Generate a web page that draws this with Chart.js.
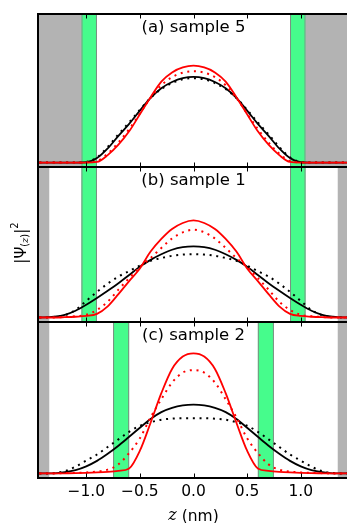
<!DOCTYPE html>
<html><head><meta charset="utf-8">
<script src="https://cdn.jsdelivr.net/npm/chart.js@4.4.1/dist/chart.umd.min.js"></script>
<style>
html,body{margin:0;padding:0;background:#fff;overflow:hidden;width:347px;height:523px}
#wrap{position:relative;width:347px;height:523px;overflow:hidden;background:#fff}
canvas{position:absolute;left:0;top:0}
</style></head><body><div id="wrap">
<canvas id="ca" width="352" height="523"></canvas>
<canvas id="cb" width="352" height="523"></canvas>
<canvas id="cc" width="352" height="523"></canvas>
</div>
<script>
// ---- data ----
const z = [-1.5,-1.4,-1.3,-1.2,-1.1,-1.0,-0.9,-0.8,-0.7,-0.6,-0.5,-0.4,-0.3,-0.2,-0.1,0.0,
            0.1,0.2,0.3,0.4,0.5,0.6,0.7,0.8,0.9,1.0,1.1,1.2,1.3,1.4,1.5];
const xTicks = [-1.0,-0.5,0.0,0.5,1.0];
const panelTitles = ["(a) sample 5","(b) sample 1","(c) sample 2"];
// barrier (gray) start |z| and well-edge (green) bands for each panel, nm
const grayFrom   = [1.045, 1.345, 1.345];
const greenFrom  = [0.90, 0.90, 0.60];
const greenTo    = [1.045, 1.045, 0.75];

// panel (a) sample 5
const redA    = [0,0,0,0,0,0,0.004,0.05,0.12,0.21,0.325,0.44,0.545,0.607,0.64,0.652,
                 0.64,0.607,0.545,0.44,0.325,0.21,0.12,0.05,0.004,0,0,0,0,0,0];
const redDotA = [0,0,0,0,0,0.001,0.01,0.06,0.135,0.225,0.33,0.435,0.52,0.575,0.605,0.615,
                 0.605,0.575,0.52,0.435,0.33,0.225,0.135,0.06,0.01,0.001,0,0,0,0,0];
const blkA    = [0,0,0,0,0,0.002,0.03,0.095,0.18,0.26,0.35,0.435,0.5,0.542,0.568,0.577,
                 0.568,0.542,0.5,0.435,0.35,0.26,0.18,0.095,0.03,0.002,0,0,0,0,0];
const blkDotA = [0,0,0,0,0,0.004,0.035,0.105,0.19,0.27,0.355,0.435,0.495,0.535,0.56,0.568,
                 0.56,0.535,0.495,0.435,0.355,0.27,0.19,0.105,0.035,0.004,0,0,0,0,0];
// panel (b) sample 1
const redB    = [0,0,0,0.002,0.005,0.01,0.024,0.074,0.155,0.242,0.326,0.438,0.522,0.588,0.628,0.645,
                 0.628,0.588,0.522,0.438,0.326,0.242,0.155,0.074,0.024,0.01,0.005,0.002,0,0,0];
const redDotB = [0,0,0,0.003,0.008,0.018,0.05,0.105,0.185,0.262,0.335,0.395,0.462,0.525,0.566,0.583,
                 0.566,0.525,0.462,0.395,0.335,0.262,0.185,0.105,0.05,0.018,0.008,0.003,0,0,0];
const blkB    = [0,0.001,0.006,0.018,0.045,0.085,0.13,0.178,0.228,0.282,0.338,0.383,0.42,0.45,0.467,0.472,
                 0.467,0.45,0.42,0.383,0.338,0.282,0.228,0.178,0.13,0.085,0.045,0.018,0.006,0.001,0];
const blkDotB = [0,0,0.004,0.015,0.05,0.11,0.17,0.225,0.272,0.308,0.345,0.377,0.395,0.41,0.418,0.421,
                 0.418,0.41,0.395,0.377,0.345,0.308,0.272,0.225,0.17,0.11,0.05,0.015,0.004,0,0];
// panel (c) sample 2
const redC    = [0,0,0,0.001,0.002,0.004,0.007,0.011,0.017,0.033,0.15,0.335,0.53,0.69,0.772,0.793,
                 0.772,0.69,0.53,0.335,0.15,0.033,0.017,0.011,0.007,0.004,0.002,0.001,0,0,0];
const redDotC = [0,0,0,0.002,0.004,0.007,0.012,0.025,0.06,0.135,0.232,0.37,0.49,0.6,0.666,0.682,
                 0.666,0.6,0.49,0.37,0.232,0.135,0.06,0.025,0.012,0.007,0.004,0.002,0,0,0];
const blkC    = [0,0,0.001,0.008,0.022,0.047,0.083,0.13,0.183,0.242,0.302,0.36,0.405,0.433,0.449,0.454,
                 0.449,0.433,0.405,0.36,0.302,0.242,0.183,0.13,0.083,0.047,0.022,0.008,0.001,0,0];
const blkDotC = [0,0,0.003,0.015,0.045,0.085,0.125,0.175,0.225,0.275,0.315,0.338,0.355,0.362,0.365,0.365,
                 0.365,0.362,0.355,0.338,0.315,0.275,0.225,0.175,0.125,0.085,0.045,0.015,0.003,0,0];

const panelSeries = [
  [redA, redDotA, blkA, blkDotA],
  [redB, redDotB, blkB, blkDotB],
  [redC, redDotC, blkC, blkDotC]
];

// ---- layout / style ----
const FONT = "'DejaVu Sans', 'Liberation Sans', sans-serif";
Chart.defaults.font.family = FONT;
Chart.defaults.color = '#000';
const W = 352, H = 523;
const PLOT_LEFT = 38, PLOT_RIGHT = 349;
const tops = [14, 167, 322], bottoms = [167, 322, 478];
const XAXIS_H = 45;
const RED = '#ff0000', BLACK = '#000000';
const GRAY = '#b3b3b3', GREEN = 'rgb(70,252,140)';

function pts(arr){ return z.map((x,i)=>({x:x, y:arr[i]})); }

function mkDatasets(s){
  const base = {pointRadius:0, borderCapStyle:'butt', cubicInterpolationMode:'monotone', fill:false};
  return [
    Object.assign({}, base, {data:pts(s[0]), borderColor:RED, borderWidth:1.8}),
    Object.assign({}, base, {data:pts(s[1]), borderColor:RED, borderWidth:2, borderDash:[2,4.7]}),
    Object.assign({}, base, {data:pts(s[2]), borderColor:BLACK, borderWidth:1.8}),
    Object.assign({}, base, {data:pts(s[3]), borderColor:BLACK, borderWidth:2, borderDash:[2,4.7]})
  ];
}

function panelPlugin(k){
  return {
    id:'panel'+k,
    beforeDatasetsDraw(chart){
      const {ctx, chartArea:{left,right,top,bottom}, scales:{x}} = chart;
      ctx.save();
      ctx.beginPath(); ctx.rect(left,top,right-left,bottom-top); ctx.clip();
      ctx.fillStyle = GRAY;
      const gL = x.getPixelForValue(-grayFrom[k]), gR = x.getPixelForValue(grayFrom[k]);
      ctx.fillRect(left, top, gL-left, bottom-top);
      ctx.fillRect(gR, top, right-gR, bottom-top);
      ctx.strokeStyle = 'rgba(130,130,130,0.9)'; ctx.lineWidth = 1;
      [[-greenTo[k],-greenFrom[k]],[greenFrom[k],greenTo[k]]].forEach(([a,b])=>{
        const pa = x.getPixelForValue(a), pb = x.getPixelForValue(b);
        ctx.fillStyle = GREEN;
        ctx.fillRect(pa, top, pb-pa, bottom-top);
        ctx.beginPath();
        ctx.moveTo(pa+0.5, top); ctx.lineTo(pa+0.5, bottom);
        ctx.moveTo(pb-0.5, top); ctx.lineTo(pb-0.5, bottom);
        ctx.stroke();
      });
      ctx.restore();
    },
    afterDatasetsDraw(chart){
      const {ctx, chartArea:{left,right,top,bottom}, scales:{x}} = chart;
      ctx.save();
      // inward ticks
      ctx.strokeStyle = '#000'; ctx.lineWidth = 1;
      ctx.beginPath();
      xTicks.forEach(v=>{
        const px = Math.round(x.getPixelForValue(v)) + 0.5;
        ctx.moveTo(px, bottom); ctx.lineTo(px, bottom-4.5);
        ctx.moveTo(px, top); ctx.lineTo(px, top+4.5);
      });
      ctx.stroke();
      // frame
      ctx.lineWidth = 2;
      ctx.strokeRect(left, top, right-left, bottom-top);
      // title
      ctx.fillStyle = '#000';
      ctx.font = "16.5px " + FONT;
      ctx.textAlign = 'center'; ctx.textBaseline = 'middle';
      ctx.fillText(panelTitles[k], (left+right)/2, top + 14);
      if (k === 1) {
        // y label |Ψ(z)|²
        ctx.translate(20, 243);
        ctx.rotate(-Math.PI/2);
        ctx.textAlign = 'left'; ctx.textBaseline = 'alphabetic';
        const parts = [
          {t:'|', f:"15px "+FONT, dy:0},
          {t:'Ψ', f:"15px "+FONT, dy:0},
          {t:'(', f:"10px "+FONT, dy:2},
          {t:'z', f:"italic 10px 'DejaVu Serif', serif", dy:2},
          {t:')', f:"10px "+FONT, dy:2},
          {t:'|', f:"15px "+FONT, dy:0},
          {t:'2', f:"10px "+FONT, dy:-8}
        ];
        let tw = 0;
        parts.forEach(p=>{ ctx.font = p.f; p.w = ctx.measureText(p.t).width; tw += p.w; });
        let cx = -tw/2;
        parts.forEach(p=>{ ctx.font = p.f; ctx.fillText(p.t, cx, 6 + p.dy); cx += p.w; });
      }
      if (k === 2) {
        // x label  z (nm)
        ctx.textBaseline = 'middle'; ctx.textAlign = 'left';
        const a = {t:'z', f:"italic 16px 'DejaVu Serif', serif"};
        const b = {t:' (nm)', f:"15.5px "+FONT};
        ctx.font = a.f; const wa = ctx.measureText(a.t).width;
        ctx.font = b.f; const wb = ctx.measureText(b.t).width;
        const cx = (left+right)/2 - (wa+wb)/2;
        ctx.font = a.f; ctx.fillText(a.t, cx, 516);
        ctx.font = b.f; ctx.fillText(b.t, cx+wa, 517);
      }
      ctx.restore();
    }
  };
}

function makeChart(id, k){
  const isBottom = (k === 2);
  const xScale = {
    type:'linear', min:-1.45, max:1.45, display:isBottom, position:'bottom',
    grid:{display:false, drawTicks:false}, border:{display:false},
    ticks:{font:{size:15.5, family:FONT}, color:'#000', padding:5,
           callback:(v)=> (v<0?'\u2212':'') + Math.abs(v).toFixed(1)},
    afterBuildTicks:(s)=>{ s.ticks = xTicks.map(v=>({value:v})); }
  };
  if (isBottom) xScale.afterFit = (s)=>{ s.height = XAXIS_H; };
  new Chart(document.getElementById(id), {
    type:'line',
    data:{datasets: mkDatasets(panelSeries[k])},
    options:{
      responsive:false, animation:false, events:[],
      layout:{padding:{left:PLOT_LEFT, right:W-PLOT_RIGHT, top:tops[k],
              bottom: isBottom ? (H - bottoms[k] - XAXIS_H) : (H - bottoms[k])}},
      scales:{
        x: xScale,
        y:{type:'linear', min:-0.03, max:1.0, display:false}
      },
      plugins:{legend:{display:false}, tooltip:{enabled:false}, title:{display:false}}
    },
    plugins:[panelPlugin(k)]
  });
}
makeChart('ca',0);
makeChart('cb',1);
makeChart('cc',2);
</script>
</body></html>
